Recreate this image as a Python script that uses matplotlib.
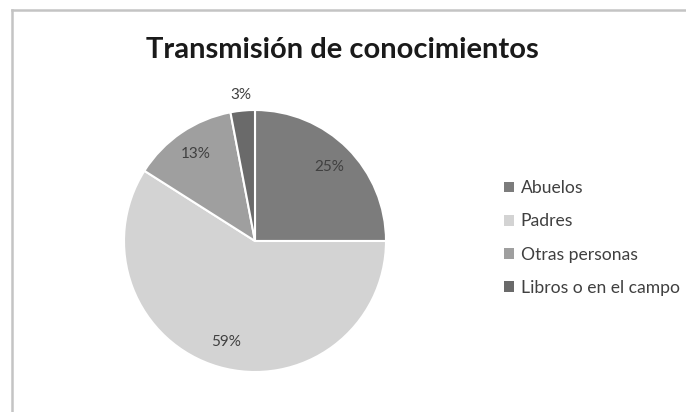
import matplotlib.pyplot as plt
import numpy as np
from matplotlib.lines import Line2D
from matplotlib.patches import Patch

categories = ['Abuelos', 'Padres', 'Otras personas', 'Libros o en el campo']
shares = [25, 59, 13, 3]
colors = ['#7c7c7c', '#d3d3d3', '#9f9f9f', '#6a6a6a']

plt.rcParams['font.family'] = ['Lato', 'DejaVu Sans']

fig = plt.figure(figsize=(6.86, 4.12), dpi=100)
fig.patch.set_facecolor('white')

# chart frame (top and left edges)
fig.add_artist(Line2D([12 / 686, 1], [1 - 10 / 412, 1 - 10 / 412],
                      color='#c4c4c4', lw=1.8))
fig.add_artist(Line2D([12 / 686, 12 / 686], [0, 1 - 10 / 412],
                      color='#c4c4c4', lw=1.8))

ax = fig.add_axes([124 / 686, 40 / 412, 262 / 686, 262 / 412])
wedges, _ = ax.pie(shares, colors=colors, startangle=90, counterclock=False,
                   wedgeprops=dict(edgecolor='white', linewidth=1.5))
ax.set_xlim(-1, 1)
ax.set_ylim(-1, 1)
ax.set_aspect('equal')
ax.axis('off')

# percentage labels, the small slice gets its label outside
for w, v in zip(wedges, shares):
    mid = np.deg2rad((w.theta1 + w.theta2) / 2)
    r = 1.12 if v < 5 else 0.8
    ax.text(r * np.cos(mid), r * np.sin(mid), f'{v}%', ha='center',
            va='center', fontsize=11, color='#404040', clip_on=False)

fig.text(342 / 686, 1 - 58 / 412, 'Transmisión de conocimientos',
         ha='center', va='baseline', fontsize=21, fontweight='bold',
         color='#1a1a1a')

handles = [Patch(facecolor=c, edgecolor='none') for c in colors]
fig.legend(handles, categories, loc='center left',
           bbox_to_anchor=(504 / 686, 1 - 238 / 412), frameon=False,
           fontsize=12.6, labelcolor='#404040', handlelength=0.55,
           handleheight=0.55, handletextpad=0.4, labelspacing=0.98,
           borderpad=0, borderaxespad=0)

fig.savefig('out.png', dpi=100, facecolor='white')
